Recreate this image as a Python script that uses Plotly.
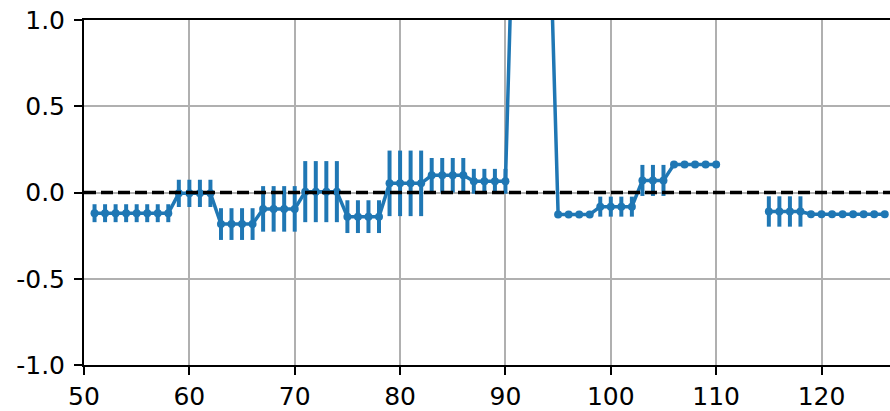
import plotly.graph_objects as go

x_vals = list(range(51, 127))

# values by integer x (None = missing)
y_51_58 = [-0.12] * 8
y_59_62 = [-0.005] * 4
y_63_66 = [-0.183] * 4
y_67_70 = [-0.095] * 4
y_71_74 = [0.005] * 4
y_75_78 = [-0.14] * 4
y_79_82 = [0.053] * 4
y_83_86 = [0.10] * 4
y_87_90 = [0.065] * 4
y_91_94 = [2.2, 2.3, 2.1, 2.0]
y_95_98 = [-0.127] * 4
y_99_102 = [-0.082] * 4
y_103_105 = [0.07] * 3
y_106_110 = [0.163] * 5
y_111_114 = [None] * 4
y_115_118 = [-0.11] * 4
y_119_126 = [-0.126] * 8

e_51_58 = [0.052] * 8
e_59_62 = [0.079] * 4
e_63_66 = [0.092] * 4
e_67_70 = [0.132] * 4
e_71_74 = [0.177] * 4
e_75_78 = [0.095] * 4
e_79_82 = [0.19] * 4
e_83_86 = [0.10] * 4
e_87_90 = [0.072] * 4
e_91_94 = [0.0] * 4
e_95_98 = [0.0] * 4
e_99_102 = [0.058] * 4
e_103_105 = [0.09] * 3
e_106_110 = [0.0] * 5
e_111_114 = [0.0] * 4
e_115_118 = [0.088] * 4
e_119_126 = [0.0] * 8

y_vals = (y_51_58 + y_59_62 + y_63_66 + y_67_70 + y_71_74 + y_75_78 + y_79_82
          + y_83_86 + y_87_90 + y_91_94 + y_95_98 + y_99_102 + y_103_105
          + y_106_110 + y_111_114 + y_115_118 + y_119_126)
err_vals = (e_51_58 + e_59_62 + e_63_66 + e_67_70 + e_71_74 + e_75_78 + e_79_82
            + e_83_86 + e_87_90 + e_91_94 + e_95_98 + e_99_102 + e_103_105
            + e_106_110 + e_111_114 + e_115_118 + e_119_126)

x_ticks = [50, 60, 70, 80, 90, 100, 110, 120]
y_ticks = [-1.0, -0.5, 0.0, 0.5, 1.0]
y_tick_text = ["-1.0", "-0.5", "0.0", "0.5", "1.0"]

blue = "#1f77b4"
fig = go.Figure()
fig.add_trace(go.Scatter(
    x=x_vals, y=y_vals, mode="lines+markers",
    line=dict(color=blue, width=3.5),
    marker=dict(color=blue, size=8),
    connectgaps=False,
    error_y=dict(type="data", array=err_vals, visible=True, color=blue,
                 thickness=4, width=0),
    showlegend=False,
))
fig.add_trace(go.Scatter(
    x=[50, 126.5], y=[0, 0], mode="lines",
    line=dict(color="black", width=3.5, dash="12px,5px"),
    showlegend=False, hoverinfo="skip",
))

font = dict(family="DejaVu Sans", size=25, color="black")
fig.update_layout(
    width=890, height=411,
    margin=dict(l=84, r=0, t=20, b=46, autoexpand=False),
    paper_bgcolor="white", plot_bgcolor="white",
    font=font,
)
fig.update_xaxes(
    range=[50, 126.5], tickvals=x_ticks, ticktext=[str(t) for t in x_ticks],
    showgrid=True, gridcolor="#b0b0b0", gridwidth=2,
    showline=True, linecolor="black", linewidth=2, mirror=True,
    ticks="outside", ticklen=8, tickwidth=1.5, tickcolor="black",
    zeroline=False, tickfont=font, automargin=False,
)
fig.update_yaxes(
    range=[-1.0, 1.0], tickvals=y_ticks, ticktext=y_tick_text,
    showgrid=True, gridcolor="#b0b0b0", gridwidth=2,
    showline=True, linecolor="black", linewidth=2,
    ticks="outside", ticklen=8, tickwidth=1.5, tickcolor="black",
    zeroline=False, tickfont=font, automargin=False, ticklabelstandoff=4,
)
fig.write_html("out.html", config={"displayModeBar": False},
               post_script="document.body.style.margin='0';document.body.style.overflow='hidden';")
